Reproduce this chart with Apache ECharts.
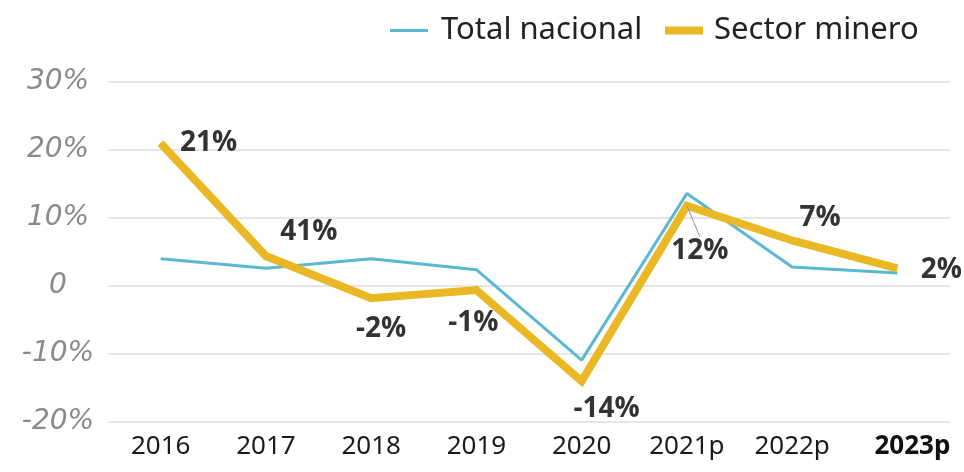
<!DOCTYPE html>
<html><head><meta charset="utf-8">
<script src="https://cdn.jsdelivr.net/npm/echarts@6/dist/echarts.min.js"></script>
<style>html,body{margin:0;padding:0;background:#fff}#c{width:964px;height:472px}</style>
</head><body><div id="c"></div>
<script>
const categories = ['2016','2017','2018','2019','2020','2021p','2022p','2023p'];
const totalNacional = [4.0, 2.6, 4.0, 2.4, -10.9, 13.6, 2.8, 1.9];
const sectorMinero = [21.0, 4.4, -1.8, -0.6, -14.0, 11.8, 6.7, 2.6];
const sectorLabels = ['21%','41%','-2%','-1%','-14%','12%','7%','2%'];
const yTicks = {min: -20, max: 30, interval: 10};

const labelOffsets = [[48,0],[43,-24],[10,31],[-3,33],[25,28],[13,45],[28,-22],[44,2]];
const BLUE = '#5bb8d2', GOLD = '#e9b824';

const chart = echarts.init(document.getElementById('c'));
chart.setOption({
  animation: false,
  backgroundColor: '#fff',
  legend: [{
    data: [{name: 'Total nacional', itemStyle: {color: BLUE, opacity: 1}}],
    left: 385, top: 10, itemWidth: 38, itemHeight: 3, icon: 'rect',
    textStyle: {fontFamily: 'Noto Sans', fontSize: 31, color: '#222', padding: [0,0,0,8]}
  },{
    data: [{name: 'Sector minero', itemStyle: {color: GOLD, opacity: 1}}],
    left: 660, top: 10, itemWidth: 38, itemHeight: 8, icon: 'rect',
    textStyle: {fontFamily: 'Noto Sans', fontSize: 31, color: '#222', padding: [0,0,0,6]}
  }],
  grid: {left: 108, right: 14, top: 82, bottom: 50, containLabel: false},
  xAxis: {
    type: 'category', data: categories, boundaryGap: true,
    axisLine: {show: false}, axisTick: {show: false},
    axisLabel: {
      interval: 0, margin: 12, color: '#1a1a1a', fontFamily: 'Noto Sans', fontSize: 26,
      formatter: (v, i) => i === categories.length - 1 ? '{b|' + v + '}' : v,
      rich: {b: {fontWeight: 'bold', fontSize: 26, fontFamily: 'Noto Sans', color: '#111', padding: [0,0,0,30]}}
    }
  },
  yAxis: {
    type: 'value', min: yTicks.min, max: yTicks.max, interval: yTicks.interval,
    splitLine: {lineStyle: {color: '#dedede', width: 1.5}},
    axisLine: {show: false}, axisTick: {show: false},
    axisLabel: {
      align: 'center', margin: 50, color: '#8a8a8a', fontStyle: 'italic', fontFamily: 'DejaVu Sans', fontSize: 28,
      formatter: v => v === 0 ? '0' : v + '%'
    }
  },
  series: [{
    name: 'Total nacional', type: 'line', data: totalNacional,
    symbol: 'none', color: BLUE,
    lineStyle: {color: BLUE, width: 3}, z: 2
  },{
    name: 'Sector minero', type: 'line', z: 3,
    data: sectorMinero.map((v, i) => ({
      value: v,
      label: {offset: labelOffsets[i]},
      labelLine: {show: i === 5, lineStyle: {color: '#8a8fa8', width: 1}}
    })),
    symbol: 'circle', symbolSize: 1, showSymbol: true, color: GOLD,
    itemStyle: {color: GOLD},
    lineStyle: {color: GOLD, width: 8, join: 'miter', cap: 'butt'},
    label: {
      show: true, position: 'inside', align: 'center', verticalAlign: 'middle',
      formatter: p => sectorLabels[p.dataIndex],
      fontFamily: 'Open Sans', fontWeight: 'bold', fontSize: 28, color: '#333'
    }
  }]
});
</script></body></html>
